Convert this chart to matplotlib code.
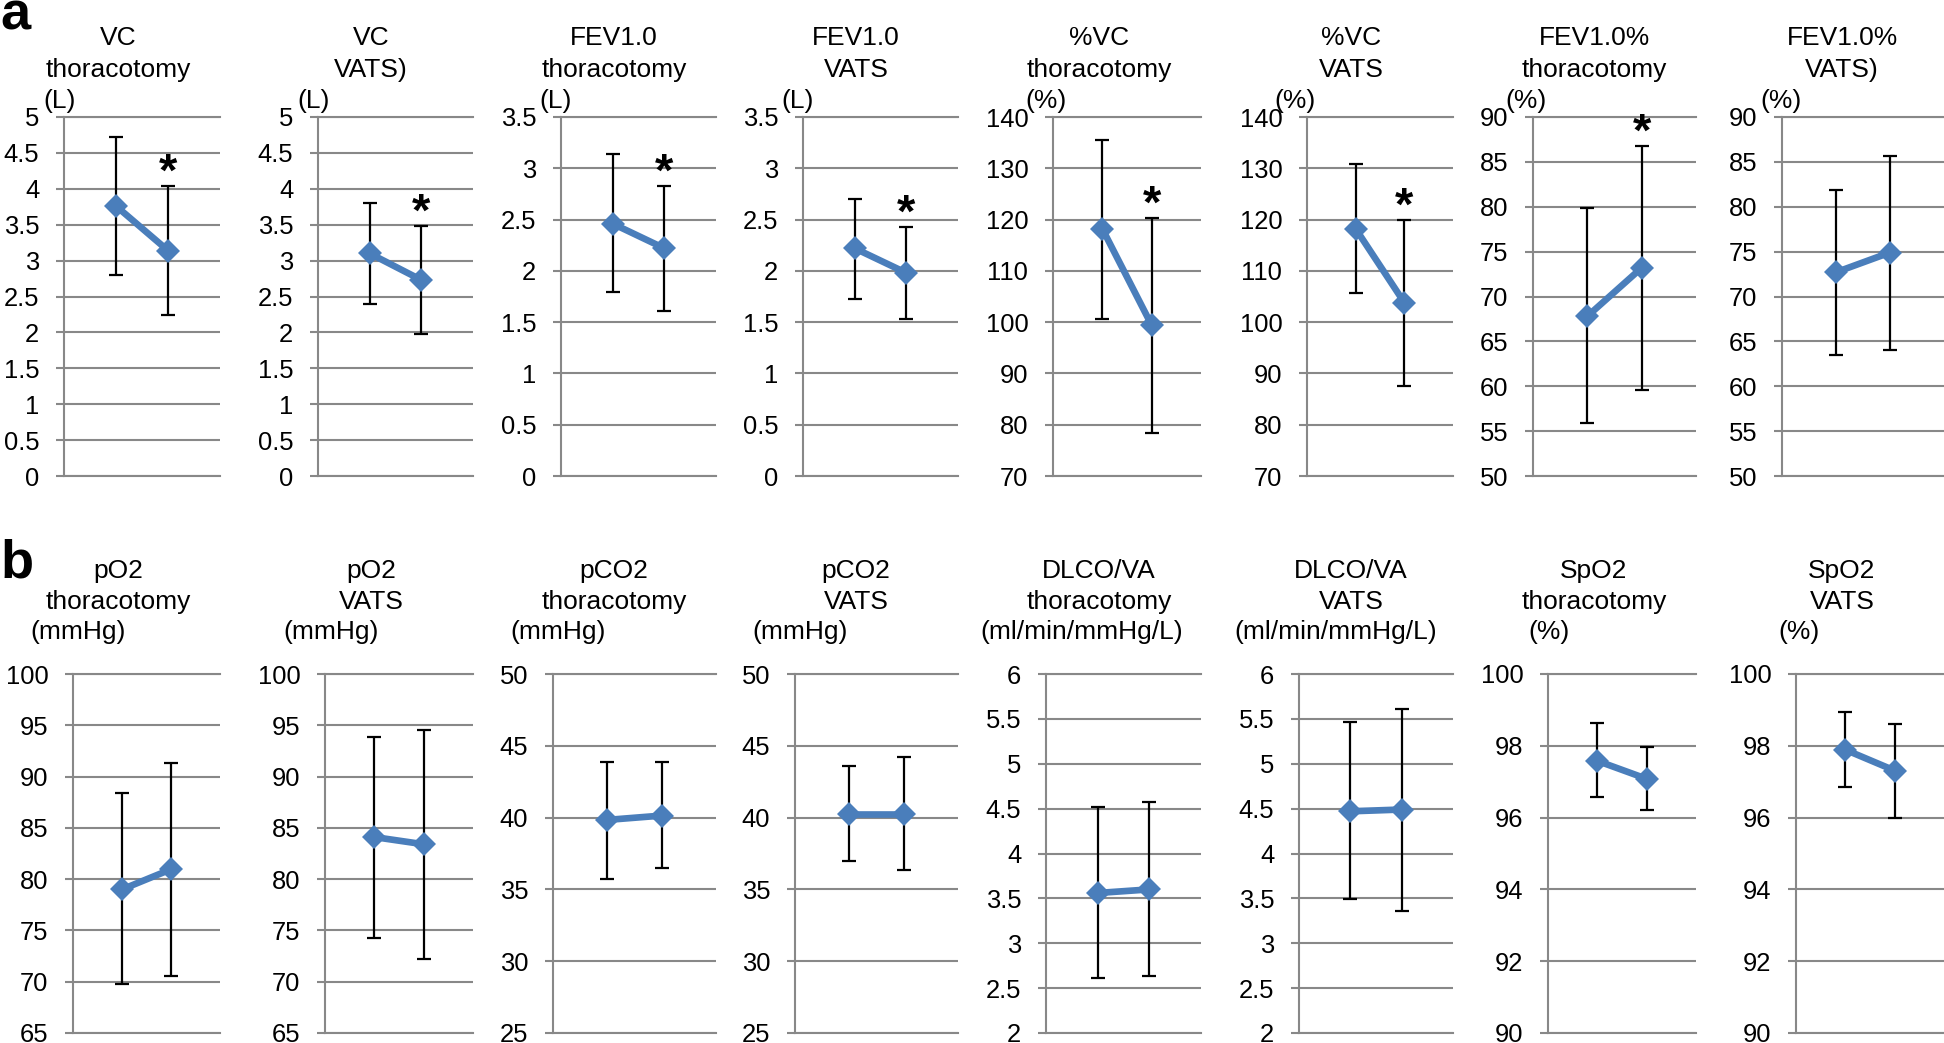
import matplotlib
matplotlib.use("Agg")
import matplotlib.pyplot as plt
from matplotlib.ticker import FuncFormatter, MultipleLocator

plt.rcParams['font.family'] = ['Liberation Sans', 'DejaVu Sans']

# ---------------- data: panel a (pulmonary function) ----------------
a_names = ["VC", "VC", "FEV1.0", "FEV1.0", "%VC", "%VC", "FEV1.0%", "FEV1.0%"]
a_groups = ["thoracotomy", "VATS)", "thoracotomy", "VATS", "thoracotomy", "VATS", "thoracotomy", "VATS)"]
a_units = ["(L)", "(L)", "(L)", "(L)", "(%)", "(%)", "(%)", "(%)"]
a_ymin = [0, 0, 0, 0, 70, 70, 50, 50]
a_ymax = [5, 5, 3.5, 3.5, 140, 140, 90, 90]
a_ystep = [0.5, 0.5, 0.5, 0.5, 10, 10, 5, 5]
a_pre = [3.76, 3.10, 2.46, 2.22, 118.2, 118.2, 67.8, 72.7]
a_post = [3.14, 2.73, 2.22, 1.98, 99.4, 103.8, 73.2, 74.9]
a_pre_hi = [4.72, 3.80, 3.14, 2.70, 135.6, 130.8, 79.9, 81.9]
a_pre_lo = [2.80, 2.40, 1.79, 1.73, 100.6, 105.6, 55.9, 63.5]
a_post_hi = [4.04, 3.48, 2.83, 2.43, 120.4, 119.9, 86.8, 85.6]
a_post_lo = [2.24, 1.98, 1.61, 1.53, 78.3, 87.6, 59.6, 64.0]
a_sig = [True, True, True, True, True, True, True, False]

# ---------------- data: panel b (blood gas / diffusion) ----------------
b_names = ["pO2", "pO2", "pCO2", "pCO2", "DLCO/VA", "DLCO/VA", "SpO2", "SpO2"]
b_groups = ["thoracotomy", "VATS", "thoracotomy", "VATS", "thoracotomy", "VATS", "thoracotomy", "VATS"]
b_units = ["(mmHg)", "(mmHg)", "(mmHg)", "(mmHg)", "(ml/min/mmHg/L)", "(ml/min/mmHg/L)", "(%)", "(%)"]
b_ymin = [65, 65, 25, 25, 2, 2, 90, 90]
b_ymax = [100, 100, 50, 50, 6, 6, 100, 100]
b_ystep = [5, 5, 5, 5, 0.5, 0.5, 2, 2]
b_pre = [79.0, 84.1, 39.84, 40.26, 3.56, 4.47, 97.58, 97.89]
b_post = [80.96, 83.4, 40.14, 40.26, 3.60, 4.49, 97.08, 97.31]
b_pre_hi = [88.4, 93.85, 43.9, 43.6, 4.52, 5.46, 98.63, 98.93]
b_pre_lo = [69.75, 74.3, 35.7, 36.98, 2.61, 3.49, 96.56, 96.85]
b_post_hi = [91.3, 94.5, 43.9, 44.19, 4.57, 5.61, 97.98, 98.61]
b_post_lo = [70.6, 72.26, 36.47, 36.35, 2.64, 3.36, 96.2, 95.98]
b_sig = [False] * 8

x_pos = [1, 2]

# ---------------- layout (pixels in the 1944x1043 canvas) ----------------
W, H = 1944, 1043
right_px = [220, 473, 716, 958, 1201, 1453, 1696, 1944]
a_left_px = [64, 318, 561, 803, 1053, 1307, 1533, 1782]
b_left_px = [73, 325, 553, 795, 1046, 1299, 1548, 1796]
a_unit_cx = [60, 314, 556, 798, 1046, 1295, 1526, 1781]
b_unit_cx = [78, 331, 558, 800, 1082, 1336, 1549, 1799]

rows = [
    dict(names=a_names, groups=a_groups, units=a_units, ymin=a_ymin, ymax=a_ymax,
         ystep=a_ystep, pre=a_pre, post=a_post, pre_hi=a_pre_hi, pre_lo=a_pre_lo,
         post_hi=a_post_hi, post_lo=a_post_lo, sig=a_sig, left=a_left_px,
         unit_cx=a_unit_cx, top=117, bottom=476, base1=45, base2=77, base3=108,
         letter="a", letter_base=29),
    dict(names=b_names, groups=b_groups, units=b_units, ymin=b_ymin, ymax=b_ymax,
         ystep=b_ystep, pre=b_pre, post=b_post, pre_hi=b_pre_hi, pre_lo=b_pre_lo,
         post_hi=b_post_hi, post_lo=b_post_lo, sig=b_sig, left=b_left_px,
         unit_cx=b_unit_cx, top=674, bottom=1033, base1=578, base2=609, base3=639,
         letter="b", letter_base=577),
]

GRID = "#888888"
BLUE = "#4A7EBB"
TITLE_FS = 19
TICK_FS = 18.4

fig = plt.figure(figsize=(W / 100, H / 100), dpi=100)
fmt = FuncFormatter(lambda v, p: f"{v:g}")


def fx(px):
    return px / W


def fy(py):
    return 1 - py / H


for row in rows:
    fig.text(0, fy(row["letter_base"]), row["letter"], fontsize=39, fontweight="bold",
             ha="left", va="baseline")
    for i in range(8):
        l, r = row["left"][i], right_px[i]
        ax = fig.add_axes([fx(l), fy(row["bottom"]), (r - l) / W,
                           (row["bottom"] - row["top"]) / H])
        ax.set_xlim(0, 3)
        ax.set_ylim(row["ymin"][i], row["ymax"][i])
        ax.yaxis.set_major_locator(MultipleLocator(row["ystep"][i]))
        ax.yaxis.set_major_formatter(fmt)
        ax.set_xticks([])
        ax.grid(axis="y", color=GRID, linewidth=1.5)
        ax.set_axisbelow(True)
        ax.spines["right"].set_visible(False)
        for s in ["left", "top", "bottom"]:
            ax.spines[s].set_color(GRID)
            ax.spines[s].set_linewidth(1.5)
        ax.tick_params(axis="y", direction="out", length=5.8, width=1.5, color=GRID,
                       pad=12, labelsize=TICK_FS, labelcolor="black")

        means = [row["pre"][i], row["post"][i]]
        lo = [row["pre"][i] - row["pre_lo"][i], row["post"][i] - row["post_lo"][i]]
        hi = [row["pre_hi"][i] - row["pre"][i], row["post_hi"][i] - row["post"][i]]
        ax.errorbar(x_pos, means, yerr=[lo, hi], fmt="none", ecolor="black",
                    elinewidth=1.6, capsize=4.7, capthick=1.6, zorder=3)
        ax.plot(x_pos, means, color=BLUE, linewidth=4.8, marker="D", markersize=12.5,
                markeredgewidth=0, zorder=4)
        if row["sig"][i]:
            ax.annotate("*", xy=(x_pos[1], row["post_hi"][i]), xytext=(0, 0),
                        textcoords="offset points", ha="center", va="baseline",
                        fontsize=34, fontweight="bold", annotation_clip=False)

        cx = r - 102
        fig.text(fx(cx), fy(row["base1"]), row["names"][i], fontsize=TITLE_FS,
                 ha="center", va="baseline")
        fig.text(fx(cx), fy(row["base2"]), row["groups"][i], fontsize=TITLE_FS,
                 ha="center", va="baseline")
        fig.text(fx(row["unit_cx"][i]), fy(row["base3"]), row["units"][i],
                 fontsize=TITLE_FS, ha="center", va="baseline")

fig.savefig("out.png", dpi=100)
